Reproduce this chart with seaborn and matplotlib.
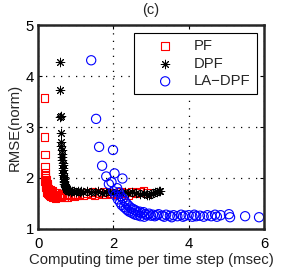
import numpy as np
import pandas as pd
import seaborn as sns
from matplotlib import pyplot as plt

# computing time per step (msec) and normalised RMSE
pf_time = [0.17, 0.17, 0.18, 0.19, 0.20, 0.18, 0.20, 0.21, 0.19, 0.22, 0.20, 0.23,
           0.21, 0.24, 0.22, 0.25, 0.26, 0.28, 0.24, 0.30, 0.27, 0.32, 0.29, 0.34,
           0.36, 0.31, 0.38, 0.40, 0.35, 0.42, 0.45, 0.40, 0.48, 0.50, 0.46, 0.55,
           0.52, 0.60, 0.58, 0.65, 0.62, 0.70, 0.68, 0.75, 0.80, 0.78, 0.85, 0.90,
           0.95, 1.00, 1.05, 1.10, 1.20, 1.30, 1.40, 1.45, 1.50, 1.60, 1.70, 1.75,
           1.80, 1.90, 2.00, 2.10, 2.20, 2.30, 2.40, 2.50, 2.60, 2.70, 2.80, 2.90]
pf_rmse = [3.57, 2.80, 2.46, 2.22, 2.10, 2.05, 2.00, 1.96, 1.93, 1.90, 1.86, 1.88,
           1.82, 1.84, 1.78, 1.80, 1.76, 1.78, 1.72, 1.74, 1.70, 1.76, 1.68, 1.72,
           1.70, 1.66, 1.74, 1.68, 1.64, 1.71, 1.66, 1.62, 1.70, 1.65, 1.60, 1.68,
           1.64, 1.66, 1.62, 1.69, 1.64, 1.67, 1.63, 1.66, 1.68, 1.63, 1.66, 1.67,
           1.64, 1.68, 1.66, 1.69, 1.67, 1.70, 1.68, 1.72, 1.66, 1.70, 1.68, 1.72,
           1.69, 1.71, 1.70, 1.68, 1.72, 1.70, 1.67, 1.73, 1.70, 1.72, 1.75, 1.71]

dpf_time = [0.57, 0.58, 0.59, 0.60, 0.61, 0.62, 0.62, 0.63, 0.63, 0.64, 0.64, 0.65,
            0.65, 0.66, 0.66, 0.67, 0.67, 0.68, 0.68, 0.69, 0.70, 0.70, 0.71, 0.72,
            0.73, 0.74, 0.75, 0.76, 0.78, 0.80, 0.82, 0.85, 0.88, 0.90, 0.95, 1.00,
            1.05, 1.10, 1.15, 1.20, 1.30, 1.40, 1.50, 1.60, 1.70, 1.80, 1.90, 2.00,
            2.10, 2.20, 2.30, 2.40, 2.50, 2.60, 2.70, 2.80, 2.90, 2.95, 3.00, 3.05,
            3.10, 3.15, 3.20, 3.25]
dpf_rmse = [4.27, 3.73, 3.20, 3.22, 2.88, 2.71, 2.62, 2.55, 2.48, 2.42, 2.36, 2.30,
            2.25, 2.20, 2.15, 2.10, 2.06, 2.02, 1.98, 1.95, 1.92, 1.88, 1.86, 1.84,
            1.82, 1.80, 1.78, 1.77, 1.76, 1.75, 1.74, 1.76, 1.73, 1.75, 1.74, 1.72,
            1.74, 1.73, 1.75, 1.72, 1.74, 1.73, 1.72, 1.74, 1.71, 1.73, 1.72, 1.71,
            1.73, 1.71, 1.72, 1.70, 1.72, 1.71, 1.69, 1.70, 1.67, 1.66, 1.69, 1.71,
            1.73, 1.72, 1.75, 1.74]

ladpf_time = [1.41, 1.54, 1.62, 1.99, 1.70, 2.03, 2.24, 1.81, 1.88, 1.95, 2.10, 2.00,
              2.15, 2.05, 2.20, 2.12, 2.25, 2.18, 2.30, 2.22, 2.35, 2.28, 2.40, 2.33,
              2.45, 2.37, 2.50, 2.42, 2.55, 2.48, 2.60, 2.53, 2.65, 2.58, 2.70, 2.64,
              2.75, 2.80, 2.72, 2.85, 2.90, 2.82, 2.95, 3.00, 3.05, 3.10, 3.15, 3.20,
              3.30, 3.35, 3.40, 3.50, 3.55, 3.60, 3.70, 3.80, 3.85, 3.90, 4.00, 4.10,
              4.15, 4.20, 4.30, 4.40, 4.50, 4.60, 4.70, 4.75, 4.85, 5.07, 5.10, 5.50,
              5.87]
ladpf_rmse = [4.31, 3.16, 2.61, 2.55, 2.24, 2.09, 1.99, 2.03, 1.88, 1.92, 1.80, 1.74,
              1.72, 1.66, 1.64, 1.58, 1.60, 1.52, 1.55, 1.47, 1.50, 1.43, 1.46, 1.40,
              1.42, 1.37, 1.40, 1.34, 1.38, 1.32, 1.36, 1.30, 1.33, 1.28, 1.34, 1.27,
              1.31, 1.33, 1.25, 1.29, 1.27, 1.24, 1.30, 1.26, 1.28, 1.25, 1.27, 1.29,
              1.26, 1.24, 1.28, 1.26, 1.23, 1.27, 1.25, 1.28, 1.24, 1.26, 1.27, 1.24,
              1.28, 1.25, 1.26, 1.24, 1.27, 1.25, 1.28, 1.24, 1.27, 1.29, 1.23, 1.25,
              1.23]

sns.set_style('ticks')
plt.rcParams['font.family'] = ['Liberation Sans', 'DejaVu Sans']

fig = plt.figure(figsize=(2.91, 2.70), dpi=100)
ax = fig.add_axes([0.131, 0.152, 0.776, 0.755])

sns.scatterplot(x=pf_time, y=pf_rmse, marker='s', s=30, color='red',
                facecolor='none', edgecolor='red', linewidth=0.8, label='PF', ax=ax)
sns.scatterplot(x=dpf_time, y=dpf_rmse, marker=(8, 2, 0), s=38, color='black',
                edgecolor='black', linewidth=0.7, label='DPF', ax=ax)
sns.scatterplot(x=ladpf_time, y=ladpf_rmse, marker='o', s=44, color='blue',
                facecolor='none', edgecolor='blue', linewidth=0.8, label='LA\u2212DPF', ax=ax)

ax.set_xlim(0, 6)
ax.set_ylim(1, 5)
ax.set_xticks([0, 2, 4, 6])
ax.set_yticks([1, 2, 3, 4, 5])
ax.grid(True, color='black', linestyle=(0, (1, 5)), linewidth=0.9)
ax.set_axisbelow(True)
for sp in ax.spines.values():
    sp.set_visible(True)
    sp.set_linewidth(1.8)
ax.tick_params(direction='in', length=3, width=0.8, top=True, right=True,
               labelsize=10.7, colors='black')
ax.tick_params(axis='x', pad=6)
ax.tick_params(axis='y', pad=3)

ax.set_xlabel('Computing time per time step (msec)', fontsize=10.7, labelpad=1)
ax.set_ylabel('RMSE(norm)', fontsize=10.7, labelpad=3)
ax.set_title('(c)', fontsize=10.5, pad=8)

leg = ax.legend(loc='upper right', bbox_to_anchor=(0.968, 0.962), borderaxespad=0,
                fancybox=False, edgecolor='black', framealpha=1, fontsize=10.7,
                labelspacing=0.25, handlelength=3.4, handletextpad=0.25,
                borderpad=0.4)
leg.get_frame().set_linewidth(0.8)

fig.savefig('out.png', dpi=100)
